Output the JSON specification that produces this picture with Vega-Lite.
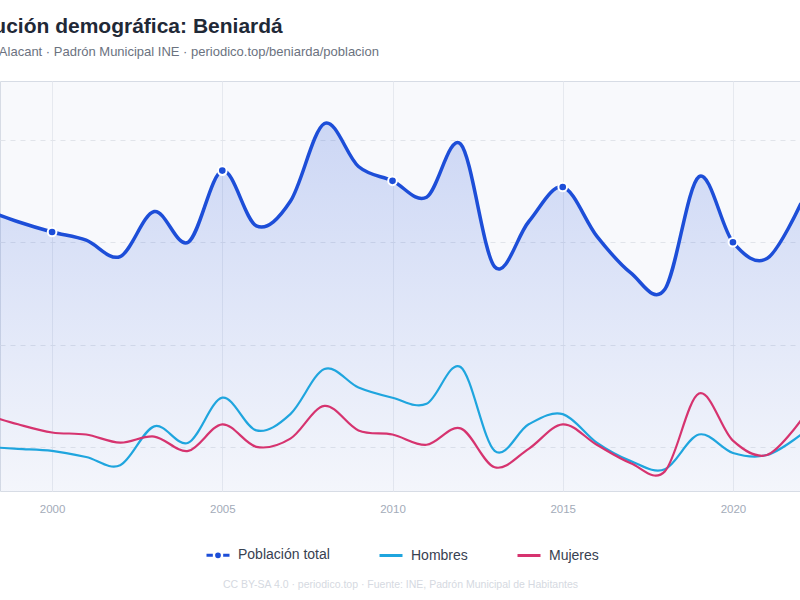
{
  "$schema": "https://vega.github.io/schema/vega-lite/v6.json",
  "autosize": {"type": "none"},
  "width": 800,
  "height": 410,
  "padding": {"left": 0, "right": 0, "top": 81, "bottom": 109},
  "background": "#ffffff",
  "config": {
    "font": "Liberation Sans",
    "view": {"fill": "#f8f9fc", "stroke": "#d7dce5", "strokeWidth": 1}
  },
  "title": {
    "text": "Evolución demográfica: Beniardá",
    "subtitle": "Alicante/Alacant · Padrón Municipal INE · periodico.top/beniarda/poblacion",
    "anchor": "start",
    "frame": "group",
    "dx": -51,
    "offset": 22,
    "font": "Liberation Sans",
    "fontSize": 21,
    "fontWeight": "bold",
    "color": "#1f2937",
    "subtitleFont": "Liberation Sans",
    "subtitleFontSize": 13,
    "subtitleColor": "#6b7280",
    "subtitlePadding": 9
  },
  "data": {
    "values": [
      {"year": 1998, "Hombres": 100, "Mujeres": 116, "Población total": 216},
      {"year": 1999, "Hombres": 99, "Mujeres": 111, "Población total": 210},
      {"year": 2000, "Hombres": 98, "Mujeres": 107, "Población total": 205},
      {"year": 2001, "Hombres": 95, "Mujeres": 106, "Población total": 201},
      {"year": 2002, "Hombres": 91, "Mujeres": 102, "Población total": 193},
      {"year": 2003, "Hombres": 110, "Mujeres": 105, "Población total": 215},
      {"year": 2004, "Hombres": 102, "Mujeres": 98, "Población total": 200},
      {"year": 2005, "Hombres": 124, "Mujeres": 111, "Población total": 235},
      {"year": 2006, "Hombres": 108, "Mujeres": 100, "Población total": 208},
      {"year": 2007, "Hombres": 116, "Mujeres": 104, "Población total": 220},
      {"year": 2008, "Hombres": 138, "Mujeres": 120, "Población total": 258},
      {"year": 2009, "Hombres": 129, "Mujeres": 108, "Población total": 237},
      {"year": 2010, "Hombres": 124, "Mujeres": 106, "Población total": 230},
      {"year": 2011, "Hombres": 121, "Mujeres": 101, "Población total": 222},
      {"year": 2012, "Hombres": 139, "Mujeres": 109, "Población total": 248},
      {"year": 2013, "Hombres": 98, "Mujeres": 90, "Población total": 188},
      {"year": 2014, "Hombres": 111, "Mujeres": 99, "Población total": 210},
      {"year": 2015, "Hombres": 116, "Mujeres": 111, "Población total": 227},
      {"year": 2016, "Hombres": 102, "Mujeres": 101, "Población total": 203},
      {"year": 2017, "Hombres": 93, "Mujeres": 92, "Población total": 185},
      {"year": 2018, "Hombres": 89, "Mujeres": 88, "Población total": 177},
      {"year": 2019, "Hombres": 106, "Mujeres": 126, "Población total": 232},
      {"year": 2020, "Hombres": 97, "Mujeres": 103, "Población total": 200},
      {"year": 2021, "Hombres": 96, "Mujeres": 96, "Población total": 192},
      {"year": 2022, "Hombres": 106, "Mujeres": 113, "Población total": 219}
    ]
  },
  "transform": [
    {"fold": ["Población total", "Hombres", "Mujeres"], "as": ["serie", "valor"]}
  ],
  "encoding": {
    "x": {
      "field": "year",
      "type": "quantitative",
      "scale": {"domain": [1998.47, 2021.97], "nice": false, "zero": false},
      "axis": {
        "values": [2000, 2005, 2010, 2015, 2020],
        "format": "d",
        "grid": true,
        "gridColor": "#e6e9ef",
        "ticks": false,
        "domain": false,
        "labelColor": "#a3abb9",
        "labelFontSize": 11.5,
        "labelPadding": 12,
        "title": "CC BY-SA 4.0 · periodico.top · Fuente: INE, Padrón Municipal de Habitantes",
        "titleColor": "#d5d9e1",
        "titleFontSize": 10.5,
        "titleFontWeight": "normal",
        "titlePadding": 65
      }
    },
    "y": {
      "field": "valor",
      "type": "quantitative",
      "scale": {"domain": [78.4, 278.8], "nice": false, "zero": false},
      "axis": {
        "values": [100, 150, 200, 250],
        "labels": false,
        "ticks": false,
        "domain": false,
        "title": null,
        "grid": true,
        "gridDash": [5, 5],
        "gridColor": "#e1e4ea"
      }
    }
  },
  "layer": [
    {
      "transform": [{"filter": {"field": "serie", "equal": "Población total"}}],
      "mark": {
        "type": "area",
        "interpolate": "cardinal",
        "clip": true,
        "color": {
          "gradient": "linear",
          "x1": 0, "y1": 0, "x2": 0, "y2": 1,
          "stops": [
            {"offset": 0, "color": "rgba(29,78,216,0.20)"},
            {"offset": 1, "color": "rgba(29,78,216,0.02)"}
          ]
        }
      },
      "encoding": {"y2": {"datum": 78.4}}
    },
    {
      "transform": [{"filter": {"field": "serie", "oneOf": ["Hombres", "Mujeres"]}}],
      "mark": {"type": "line", "interpolate": "cardinal", "clip": true, "strokeWidth": 2.2},
      "encoding": {
        "color": {
          "field": "serie",
          "type": "nominal",
          "scale": {
            "domain": ["Población total", "Hombres", "Mujeres"],
            "range": ["#1d4ed8", "#1fa5de", "#d6336f"]
          },
          "legend": {
            "orient": "none",
            "legendX": 205,
            "legendY": 461,
            "direction": "horizontal",
            "title": null,
            "padding": 0,
            "labelFont": "Liberation Sans",
            "labelFontSize": 14,
            "labelColor": "#374151",
            "symbolType": "stroke",
            "symbolSize": 529,
            "symbolStrokeWidth": 3,
            "labelOffset": 7,
            "columnPadding": 43,
            "encode": {
              "symbols": {
                "update": {
                  "shape": {"signal": "datum.value === 'Población total' ? 'M-1,0H-0.45M0.45,0H1M-0.12,0A0.12,0.12,0,1,1,0.12,0A0.12,0.12,0,1,1,-0.12,0Z' : 'stroke'"},
                  "fill": {"signal": "datum.value === 'Población total' ? '#1d4ed8' : 'transparent'"}
                }
              }
            }
          }
        }
      }
    },
    {
      "transform": [{"filter": {"field": "serie", "equal": "Población total"}}],
      "mark": {"type": "line", "interpolate": "cardinal", "clip": true, "strokeWidth": 3.5},
      "encoding": {"color": {"field": "serie", "type": "nominal"}}
    },
    {
      "transform": [
        {"filter": {"field": "serie", "equal": "Población total"}},
        {"filter": {"field": "year", "oneOf": [2000, 2005, 2010, 2015, 2020]}}
      ],
      "mark": {"type": "point", "filled": true, "size": 75, "stroke": "#ffffff", "strokeWidth": 2, "opacity": 1, "clip": true},
      "encoding": {"color": {"field": "serie", "type": "nominal"}}
    }
  ]
}
